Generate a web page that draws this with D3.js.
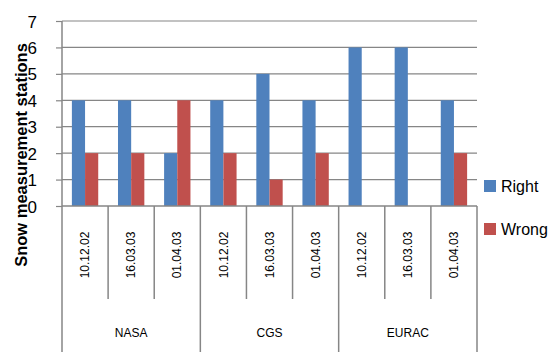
<!DOCTYPE html>
<meta charset="utf-8">
<script src="https://d3js.org/d3.v7.min.js"></script>
<style>
  body { margin: 0; background: #fff; }
  text { font-family: "Liberation Sans", "Open Sans", sans-serif; fill: #000; }
</style>
<div id="my_dataviz"></div>
<script>

// data
var groups = ["NASA", "CGS", "EURAC"];
var dates = ["10.12.02", "16.03.03", "01.04.03"];
var rightVals = [4, 4, 2, 4, 5, 4, 6, 6, 4];
var wrongVals = [2, 2, 4, 2, 1, 2, 0, 0, 2];
var seriesNames = ["Right", "Wrong"];
var colors = ["#4F81BD", "#C0504D"];
var yTicks = [0, 1, 2, 3, 4, 5, 6, 7];

var W = 559, H = 352;
var margin = {top: 21, right: 82, bottom: 146, left: 62},
    width = W - margin.left - margin.right,
    height = H - margin.top - margin.bottom;

var svg = d3.select("#my_dataviz")
  .append("svg")
    .attr("width", W)
    .attr("height", H)
  .append("g")
    .attr("transform", "translate(" + margin.left + "," + margin.top + ")");

// build rows from the arrays
var rows = [];
groups.forEach(function(g, gi) {
  dates.forEach(function(d, di) {
    var i = gi * dates.length + di;
    rows.push({key: g + "|" + d, group: g, date: d, values: [rightVals[i], wrongVals[i]]});
  });
});

var x = d3.scaleBand()
  .domain(rows.map(function(r) { return r.key; }))
  .range([0, width]);

var xGroup = d3.scaleBand()
  .domain(groups)
  .range([0, width]);

var barW = x.bandwidth() / 3.5;
var xSub = d3.scaleBand()
  .domain(seriesNames)
  .range([(x.bandwidth() - 2 * barW) / 2, (x.bandwidth() + 2 * barW) / 2]);

var y = d3.scaleLinear()
  .domain([0, 7])
  .range([height, 0]);

var gridColor = "#868686";

// gridlines
svg.append("g")
  .selectAll("line")
  .data(yTicks.filter(function(t) { return t > 0; }))
  .enter().append("line")
    .attr("x1", 0).attr("x2", width)
    .attr("y1", function(d) { return y(d); })
    .attr("y2", function(d) { return y(d); })
    .attr("stroke", gridColor)
    .attr("stroke-width", 1.2);

// bars
var cat = svg.append("g")
  .selectAll("g")
  .data(rows)
  .enter().append("g")
    .attr("transform", function(d) { return "translate(" + x(d.key) + ",0)"; });

cat.selectAll("rect")
  .data(function(d) { return d.values.map(function(v, i) { return {s: seriesNames[i], v: v, i: i}; }); })
  .enter().append("rect")
    .attr("x", function(d) { return xSub(d.s); })
    .attr("width", xSub.bandwidth())
    .attr("y", function(d) { return y(d.v); })
    .attr("height", function(d) { return height - y(d.v); })
    .attr("fill", function(d) { return colors[d.i]; });

// y axis
var yAxis = svg.append("g")
  .call(d3.axisLeft(y).tickValues(yTicks).tickSize(6).tickPadding(19).tickFormat(d3.format("d")));
yAxis.select(".domain").attr("stroke", gridColor).attr("stroke-width", 1.5).attr("d", "M0," + y(7) + "V" + height);
yAxis.selectAll(".tick line").attr("stroke", gridColor).attr("stroke-width", 1.2);
yAxis.selectAll(".tick text")
  .style("font-family", "Liberation Sans, sans-serif")
  .style("font-size", "17px")
  .attr("dy", "0.36em");

// x axis baseline
svg.append("line")
  .attr("x1", 0).attr("x2", width)
  .attr("y1", height).attr("y2", height)
  .attr("stroke", gridColor).attr("stroke-width", 1.5);

// category separators
var bounds = rows.map(function(r) { return x(r.key); }).concat([width]);
svg.append("g")
  .selectAll("line")
  .data(bounds)
  .enter().append("line")
    .attr("x1", function(d) { return d; })
    .attr("x2", function(d) { return d; })
    .attr("y1", height)
    .attr("y2", function(d, i) { return (i % 3 === 0) ? H - margin.top : height + 93; })
    .attr("stroke", gridColor)
    .attr("stroke-width", 1.5);

// date labels
cat.append("text")
  .attr("transform", function(d) { return "translate(" + (x.bandwidth() / 2) + "," + (height + 49) + ") rotate(-90)"; })
  .attr("text-anchor", "middle")
  .attr("dy", "0.35em")
  .style("font-size", "12px")
  .text(function(d) { return d.date; });

// group labels
svg.append("g")
  .selectAll("text")
  .data(groups)
  .enter().append("text")
    .attr("x", function(d) { return xGroup(d) + xGroup.bandwidth() / 2; })
    .attr("y", height + 131)
    .attr("text-anchor", "middle")
    .style("font-size", "12px")
    .text(function(d) { return d; });

// y title
svg.append("text")
  .attr("transform", "translate(" + (27 - margin.left) + "," + (155 - margin.top) + ") rotate(-90)")
  .attr("text-anchor", "middle")
  .style("font-size", "16.5px")
  .style("font-weight", "bold")
  .text("Snow measurement stations");

// legend
var legend = svg.append("g")
  .selectAll("g")
  .data(seriesNames)
  .enter().append("g")
    .attr("transform", function(d, i) { return "translate(" + (width + 7) + "," + (159 + i * 43) + ")"; });

legend.append("rect")
  .attr("width", 12).attr("height", 12)
  .attr("fill", function(d, i) { return colors[i]; });

legend.append("text")
  .attr("x", 17)
  .attr("y", 6)
  .attr("dy", "0.36em")
  .style("font-size", "16px")
  .text(function(d) { return d; });

</script>
